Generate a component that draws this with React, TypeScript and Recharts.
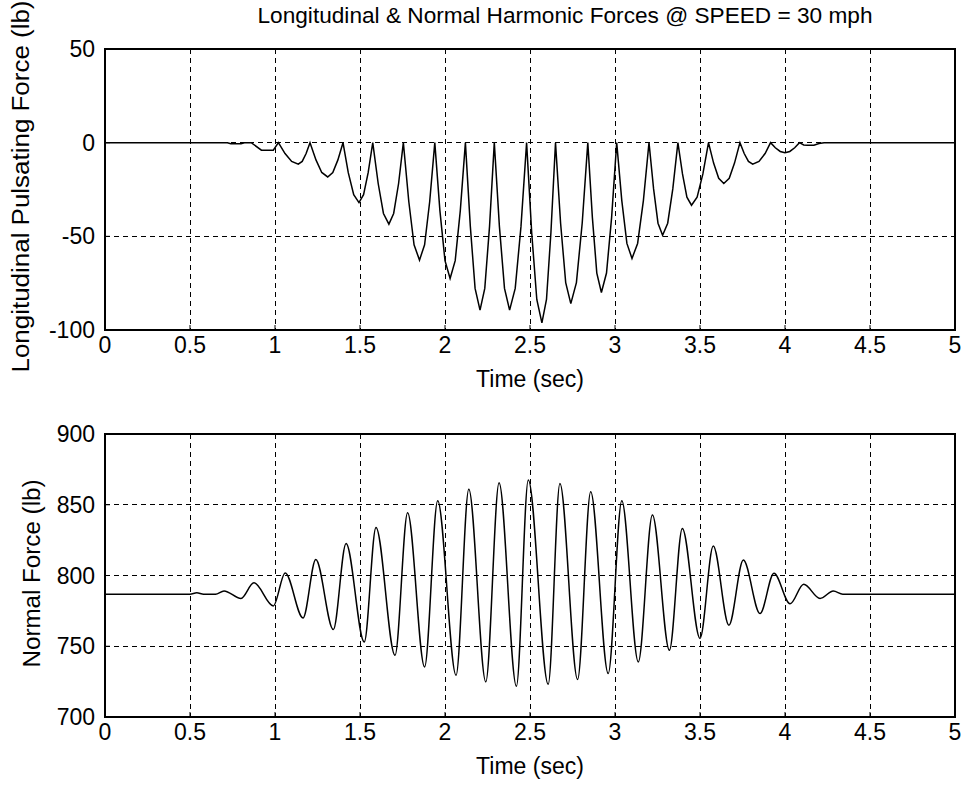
import { LineChart, Line, XAxis, YAxis, CartesianGrid, ReferenceArea } from "recharts"

const FONT = "'Liberation Sans', Arial, sans-serif"
const FS = 23

// shared time axis ticks (sec)
const timeTicks = [0, 0.5, 1, 1.5, 2, 2.5, 3, 3.5, 4, 4.5, 5]
const pulseTicks = [-100, -50, 0, 50]
const normalTicks = [700, 750, 800, 850, 900]

// longitudinal pulsating force
const pulseTime = [
  0, 0.5, 0.72, 0.74, 0.8, 0.82, 0.86, 0.92, 0.99,
  1.02, 1.059, 1.098, 1.137, 1.16, 1.183,
  1.206, 1.241, 1.275, 1.31, 1.34, 1.37,
  1.4, 1.431, 1.463, 1.494, 1.521, 1.548,
  1.575, 1.607, 1.638, 1.67, 1.698, 1.727,
  1.755, 1.787, 1.818, 1.85, 1.88, 1.91,
  1.94, 1.97, 2.0, 2.03, 2.06, 2.09,
  2.12, 2.149, 2.177, 2.206, 2.234, 2.262,
  2.29, 2.32, 2.35, 2.38, 2.413, 2.447,
  2.48, 2.51, 2.54, 2.57, 2.597, 2.623,
  2.65, 2.68, 2.71, 2.74, 2.773, 2.807,
  2.84, 2.867, 2.893, 2.92, 2.95, 2.98,
  3.01, 3.04, 3.07, 3.1, 3.133, 3.167,
  3.2, 3.227, 3.253, 3.28, 3.31, 3.34,
  3.37, 3.397, 3.423, 3.45, 3.483, 3.517,
  3.55, 3.58, 3.61, 3.64, 3.672, 3.703,
  3.735, 3.76, 3.785, 3.81, 3.847, 3.883,
  3.915, 3.943, 3.972, 4.0, 4.028, 4.057,
  4.085, 4.11, 4.13, 4.17, 4.2, 4.23, 4.5, 5,
]
const pulseForce = [
  0, 0, 0, -0.6, -0.6, 0, 0, -4, -4,
  0, -5.8, -10, -11.5, -10, -5.8,
  0, -9.2, -15.9, -18.3, -15.9, -9.2,
  0, -16, -27.8, -32, -27.8, -16,
  0, -21.8, -37.8, -43.5, -37.8, -21.8,
  0, -31.4, -54.5, -62.7, -54.5, -31.4,
  0, -36.3, -63, -72.5, -63, -36.3,
  0, -44.7, -77.8, -89.4, -77.8, -44.7,
  0, -44.7, -77.8, -89.4, -77.8, -44.7,
  0, -48.1, -83.7, -96.2, -83.7, -48.1,
  0, -43, -74.7, -85.9, -74.7, -43,
  0, -40, -69.6, -80, -69.6, -40,
  0, -30.9, -53.8, -61.8, -53.8, -30.9,
  0, -24.7, -43, -49.4, -43, -24.7,
  0, -16.7, -29.1, -33.4, -29.1, -16.7,
  0, -10.9, -19, -21.8, -19, -10.9,
  0, -5.8, -10, -11.5, -10, -5.8,
  0, -2.7, -4.7, -5.4, -4.7, -2.7,
  0, -1.2, -1.4, -1.4, -0.5, 0, 0, 0,
]

// normal force peaks and troughs
const normalTime = [
  0, 0.5, 0.54, 0.58, 0.65, 0.7, 0.8, 0.876, 0.99,
  1.06, 1.165, 1.24, 1.343, 1.418, 1.525, 1.594, 1.706, 1.78, 1.88,
  1.957, 2.065, 2.14, 2.24, 2.318, 2.42, 2.49, 2.607, 2.676, 2.78,
  2.857, 2.96, 3.04, 3.137, 3.22, 3.32, 3.396, 3.5, 3.578, 3.67,
  3.755, 3.853, 3.935, 4.03, 4.11, 4.206, 4.284, 4.34, 5,
]
const normalForce = [
  786.8, 786.8, 787.8, 786.8, 786.8, 789.1, 783.8, 794.8, 778.5,
  801.8, 770, 811.3, 761.8, 822.7, 753, 834, 743.6, 844.3, 735.4,
  852.8, 729.5, 861, 724.8, 865.5, 721.7, 867.5, 723.1, 865, 726.5,
  859.2, 730.7, 852.8, 738.9, 842.7, 747.2, 833.3, 755.5, 820.8, 764.9,
  810.9, 773.1, 801.6, 780, 793.8, 783.8, 789, 786.8, 786.8,
]

const pulseData = pulseTime.map((t, i) => ({ t, v: pulseForce[i] }))
const normalData = normalTime.map((t, i) => ({ t, v: normalForce[i] }))

const tickStyle = { fill: "#000", fontSize: FS, fontFamily: FONT }

function xLabel(props: any) {
  const vb = props.viewBox
  return (
    <text
      x={vb.x + vb.width / 2}
      y={vb.y + 49}
      textAnchor="middle"
      dominantBaseline="central"
      fontSize={FS}
      fontFamily={FONT}
      fill="#000"
    >
      Time (sec)
    </text>
  )
}

function yLabel(text: string, cx: number, cyShift: number, len: number) {
  return (props: any) => {
    const vb = props.viewBox
    const cy = vb.y + vb.height / 2 + cyShift
    return (
      <text
        x={cx}
        y={cy}
        transform={`rotate(-90 ${cx} ${cy})`}
        textAnchor="middle"
        dominantBaseline="central"
        fontSize={FS}
        fontFamily={FONT}
        textLength={len}
        lengthAdjust="spacingAndGlyphs"
        fill="#000"
      >
        {text}
      </text>
    )
  }
}

type PanelProps = {
  data: { t: number; v: number }[]
  height: number
  top: number
  xHeight: number
  yDomain: number[]
  yTicks: number[]
  yTitle: string
  yTitleX: number
  yTitleShift: number
  yTitleLen: number
  curve: "linear" | "monotone"
}

function Panel(p: PanelProps) {
  const [y0, y1] = p.yDomain
  return (
    <LineChart
      width={964}
      height={p.height}
      data={p.data}
      margin={{ top: p.top, right: 9, bottom: 0, left: 0 }}
    >
      <CartesianGrid
        stroke="#000"
        strokeDasharray="5 4"
        strokeWidth={1}
        shapeRendering="crispEdges"
      />
      <XAxis
        dataKey="t"
        type="number"
        domain={[0, 5]}
        ticks={timeTicks}
        interval={0}
        height={p.xHeight}
        tickSize={-5}
        tickMargin={12}
        stroke="#000"
        axisLine={false}
        tick={tickStyle}
        label={{ content: xLabel }}
      />
      <YAxis
        type="number"
        domain={p.yDomain}
        ticks={p.yTicks}
        interval={0}
        width={105}
        tickSize={-5}
        tickMargin={15}
        stroke="#000"
        axisLine={false}
        tick={tickStyle}
        label={{ content: yLabel(p.yTitle, p.yTitleX, p.yTitleShift, p.yTitleLen) }}
      />
      <ReferenceArea
        x1={0}
        x2={5}
        y1={y0}
        y2={y1}
        fill="none"
        fillOpacity={0}
        stroke="#000"
        strokeWidth={1.3}
        shapeRendering="crispEdges"
        ifOverflow="visible"
      />
      <Line
        type={p.curve}
        dataKey="v"
        stroke="#000"
        strokeWidth={1.5}
        dot={false}
        isAnimationActive={false}
      />
    </LineChart>
  )
}

export default function App() {
  return (
    <div
      style={{
        position: "absolute",
        left: 0,
        top: 0,
        width: 964,
        height: 791,
        background: "#fff",
        overflow: "hidden",
      }}
    >
      <svg
        width={964}
        height={30}
        style={{ position: "absolute", left: 0, top: 0 }}
      >
        <text
          x={565}
          y={15}
          textAnchor="middle"
          dominantBaseline="central"
          fontFamily={FONT}
          fontSize={22.5}
          textLength={615}
          lengthAdjust="spacingAndGlyphs"
          fill="#000"
        >
          Longitudinal &amp; Normal Harmonic Forces @ SPEED = 30 mph
        </text>
      </svg>
      <div style={{ position: "absolute", left: 0, top: 0 }}>
        <Panel
          data={pulseData}
          height={400}
          top={49}
          xHeight={70}
          yDomain={[-100, 50]}
          yTicks={pulseTicks}
          yTitle="Longitudinal Pulsating Force (lb)"
          yTitleX={21}
          yTitleShift={-3}
          yTitleLen={372}
          curve="linear"
        />
      </div>
      <div style={{ position: "absolute", left: 0, top: 400 }}>
        <Panel
          data={normalData}
          height={391}
          top={34}
          xHeight={74}
          yDomain={[700, 900]}
          yTicks={normalTicks}
          yTitle="Normal Force (lb)"
          yTitleX={32}
          yTitleShift={-2}
          yTitleLen={188}
          curve="monotone"
        />
      </div>
    </div>
  )
}
